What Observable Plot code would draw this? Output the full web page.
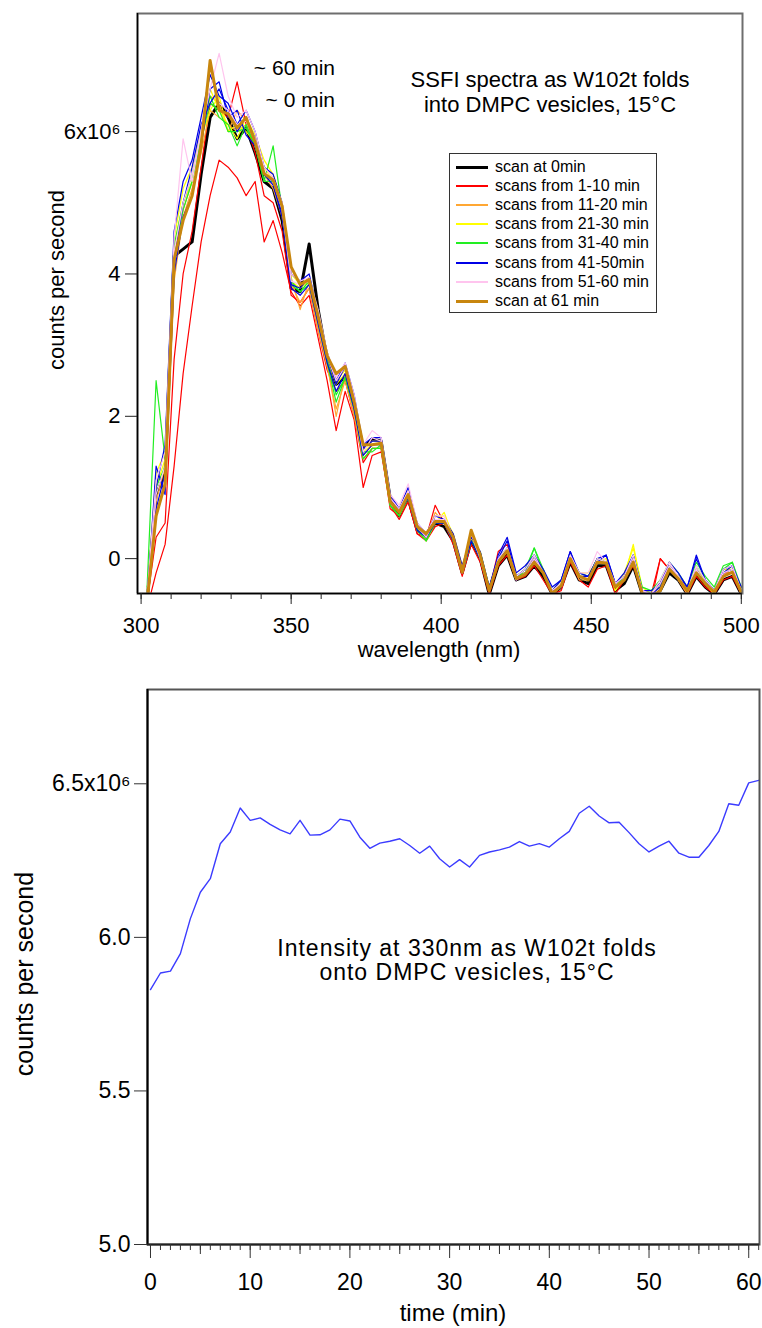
<!DOCTYPE html>
<html>
<head>
<meta charset="utf-8">
<script src="https://cdn.jsdelivr.net/npm/d3@7"></script>
<script src="https://cdn.jsdelivr.net/npm/@observablehq/plot@0.6"></script>
<style>
  body { margin: 0; background: #fff; font-family: "Liberation Sans", Arial, sans-serif; }
  #wrap { position: relative; width: 762px; height: 1328px; overflow: hidden; background: #fff; }
  .panel { position: absolute; left: 0; width: 762px; overflow: hidden; background: #fff; }
  .note { position: absolute; color: #000; white-space: nowrap; line-height: 1; font-family: "Liberation Sans", Arial, sans-serif; }
  .center { transform: translateX(-50%); text-align: center; }
  .ylab { transform: translate(-50%, -50%) rotate(-90deg); }
  #legend { position: absolute; left: 449px; top: 153px; width: 206px; height: 158px; border: 1px solid #333; background: #fff; }
  .lrow { position: absolute; left: 0; width: 206px; height: 19px; }
  .lsw { position: absolute; left: 6px; width: 32px; }
  .ltx { position: absolute; left: 45px; top: 0; font-size: 16px; line-height: 19px; white-space: nowrap; }
</style>
</head>
<body>
<div id="wrap">
  <div id="topPanel" class="panel" style="top:0;height:663px;">
    <div id="topChart"></div>
    <div class="note center" style="left:550px;top:69px;font-size:22px;">SSFI spectra as W102t folds</div>
    <div class="note center" style="left:550px;top:94px;font-size:22px;">into DMPC vesicles, 15°C</div>
    <div class="note" style="right:427px;top:57px;font-size:21px;">~ 60 min</div>
    <div class="note" style="right:427px;top:89px;font-size:21px;">~ 0 min</div>
    <div class="note ylab" style="left:57px;top:280px;font-size:22px;">counts per second</div>
    <div class="note center" style="left:439px;top:639px;font-size:22px;">wavelength (nm)</div>
    <div id="legend"></div>
  </div>
  <div id="bottomPanel" class="panel" style="top:663px;height:665px;">
    <div id="bottomChart"></div>
    <div class="note center" style="left:467px;top:274px;font-size:23px;letter-spacing:1px;">Intensity at 330nm as W102t folds</div>
    <div class="note center" style="left:467px;top:298px;font-size:23px;letter-spacing:1px;">onto DMPC vesicles, 15°C</div>
    <div class="note ylab" style="left:24px;top:311px;font-size:25px;">counts per second</div>
    <div class="note center" style="left:453px;top:638px;font-size:24px;">time (min)</div>
  </div>
</div>
<script>
// ---------------- DATA: spectra (counts per second, x10^6) ----------------
const wavelengths = [302,305,308,311,314,317,320,323,326,329,
  332,335,338,341,344,347,350,353,356,359,
  362,365,368,371,374,377,380,383,386,389,
  392,395,398,401,404,407,410,413,416,419,
  422,425,428,431,434,437,440,443,446,449,
  452,455,458,461,464,467,470,473,476,479,
  482,485,488,491,494,497,500];

const scan0min = [-0.6,0.9,1.2,4.25,4.35,4.45,5.4,6.2,6.4,6.2,
  5.9,6.05,5.7,5.3,5.2,4.75,3.8,3.75,4.42,3.5,
  2.8,2.45,2.55,2.15,1.55,1.68,1.65,0.85,0.6,0.85,
  0.4,0.3,0.5,0.45,0.25,-0.2,0.25,0.0,-0.5,-0.1,
  0.05,-0.3,-0.25,-0.1,-0.25,-0.5,-0.4,-0.05,-0.3,-0.35,
  -0.1,-0.1,-0.45,-0.35,-0.1,-0.5,-0.55,-0.45,-0.2,-0.3,
  -0.5,-0.25,-0.4,-0.5,-0.3,-0.25,-0.5];
const scanRedA = [-0.7,-0.2,0.2,1.3,2.6,3.55,4.45,5.1,5.6,5.5,
  5.35,5.1,5.3,4.45,4.75,4.3,3.75,3.55,3.7,3.1,
  2.5,1.8,2.35,1.95,1.0,1.45,1.5,0.75,0.55,0.8,
  0.35,0.25,0.45,0.5,0.2,-0.25,0.2,-0.05,-0.5,-0.1,
  0.05,-0.3,-0.25,-0.1,-0.3,-0.5,-0.45,-0.05,-0.3,-0.4,
  -0.15,-0.1,-0.5,-0.3,-0.1,-0.5,-0.6,0.0,-0.15,-0.3,
  -0.5,-0.25,-0.4,-0.5,-0.3,-0.25,-0.5];
const scanRedB = [-0.6,0.3,0.5,2.8,4.0,4.6,5.5,6.4,6.3,6.2,
  6.7,6.1,5.7,5.1,5.0,4.6,3.7,3.6,3.8,3.2,
  2.65,2.35,2.5,2.0,1.35,1.55,1.55,0.7,0.6,0.8,
  0.35,0.3,0.75,0.5,0.25,-0.2,0.3,0.05,-0.45,0.1,
  0.2,-0.25,-0.2,0.0,-0.2,-0.45,-0.35,0.0,-0.25,-0.3,
  -0.05,-0.05,-0.4,-0.3,0.0,-0.45,-0.5,0.0,-0.15,-0.25,
  -0.45,-0.2,-0.35,-0.45,-0.2,-0.2,-0.45];
const scanOrangeA = [-0.5,0.8,1.3,4.3,4.9,5.3,5.9,6.5,6.4,6.0,
  6.3,6.15,5.9,5.5,5.35,4.9,3.95,3.5,3.9,3.3,
  2.75,2.0,2.6,2.1,1.45,1.6,1.6,0.8,0.7,0.9,
  0.45,0.35,0.55,0.5,0.3,-0.15,0.3,0.05,-0.45,-0.05,
  0.1,-0.25,-0.2,0.0,-0.2,-0.45,-0.35,0.0,-0.25,-0.25,
  0.0,-0.05,-0.4,-0.3,0.0,-0.45,-0.5,-0.4,-0.1,-0.25,
  -0.45,-0.15,-0.35,-0.45,-0.2,-0.15,-0.45];
const scanOrangeB = [-0.6,0.6,1.1,3.9,4.8,5.2,5.7,6.3,6.2,6.1,
  6.0,6.1,5.8,5.4,5.2,4.8,3.85,3.6,3.8,3.2,
  2.7,2.1,2.5,2.0,1.4,1.55,1.55,0.75,0.6,0.85,
  0.4,0.3,0.65,0.5,0.25,-0.2,0.25,0.0,-0.45,0.0,
  0.1,-0.3,-0.2,0.0,-0.2,-0.5,-0.4,0.0,-0.3,-0.3,
  -0.05,-0.05,-0.45,-0.3,0.0,-0.5,-0.5,-0.4,-0.15,-0.3,
  -0.5,-0.2,-0.35,-0.5,-0.2,-0.2,-0.5];
const scanYellowA = [-0.5,1.2,1.5,4.5,5.2,5.5,6.0,6.6,6.3,6.1,
  5.9,6.2,5.95,5.6,5.4,5.0,4.0,3.85,3.95,3.4,
  2.9,2.5,2.65,2.25,1.55,1.65,1.65,0.85,0.7,0.95,
  0.5,0.3,0.6,0.6,0.35,-0.1,0.3,0.05,-0.4,-0.05,
  0.1,-0.25,-0.15,0.05,-0.2,-0.45,-0.35,0.05,-0.2,-0.2,
  -0.05,0.0,-0.4,-0.2,0.15,-0.4,-0.5,-0.35,-0.1,-0.25,
  -0.45,-0.15,-0.3,-0.45,-0.15,-0.15,-0.4];
const scanYellowB = [-0.5,1.0,1.4,4.4,5.0,5.3,5.9,6.3,6.5,6.0,
  6.1,6.0,5.85,5.5,5.3,4.95,3.9,3.8,3.9,3.4,
  2.8,2.45,2.6,2.2,1.5,1.6,1.6,0.8,0.65,0.9,
  0.45,0.25,0.5,0.65,0.3,-0.15,0.3,0.0,-0.45,-0.05,
  0.1,-0.25,-0.2,0.0,-0.15,-0.5,-0.35,0.0,-0.25,-0.25,
  0.0,-0.05,-0.45,-0.25,0.2,-0.45,-0.5,-0.35,-0.1,-0.3,
  -0.45,-0.15,-0.35,-0.5,-0.2,-0.1,-0.45];
const scanGreenA = [-0.4,2.5,1.4,4.4,5.0,5.4,6.0,6.5,6.2,6.1,
  5.8,6.1,5.8,5.3,5.8,4.9,3.9,3.75,3.9,3.35,
  2.8,2.3,2.55,2.1,1.5,1.5,1.6,0.75,0.6,0.9,
  0.4,0.25,0.55,0.55,0.3,-0.15,0.25,0.1,-0.4,0.0,
  0.15,-0.25,-0.15,0.15,-0.15,-0.45,-0.3,0.05,-0.2,-0.25,
  0.0,-0.05,-0.4,-0.25,0.05,-0.4,-0.45,-0.3,-0.05,-0.2,
  -0.4,-0.05,-0.25,-0.4,-0.1,-0.05,-0.4];
const scanGreenB = [-0.5,1.0,1.3,4.2,4.9,5.3,5.9,6.4,6.3,6.0,
  6.0,6.05,5.8,5.3,5.3,4.85,3.85,3.75,3.85,3.3,
  2.75,2.2,2.55,2.1,1.4,1.55,1.55,0.75,0.6,0.85,
  0.4,0.25,0.5,0.5,0.25,-0.2,0.25,0.0,-0.45,-0.05,
  0.1,-0.25,-0.2,0.15,-0.2,-0.45,-0.35,0.0,-0.25,-0.3,
  -0.05,-0.05,-0.4,-0.3,0.0,-0.45,-0.45,-0.4,-0.1,-0.25,
  -0.45,-0.1,-0.3,-0.45,-0.15,-0.05,-0.45];
const scanBlueA = [-0.5,1.0,1.6,4.6,5.3,5.6,6.2,6.8,6.5,6.4,
  6.1,6.3,6.0,5.5,5.4,5.0,4.0,3.9,4.0,3.45,
  2.9,2.5,2.75,2.3,1.6,1.7,1.7,0.9,0.7,1.0,
  0.5,0.35,0.6,0.55,0.35,-0.1,0.3,0.1,-0.4,0.05,
  0.3,-0.2,-0.1,0.05,-0.15,-0.4,-0.3,0.1,-0.2,-0.25,
  0.0,0.05,-0.35,-0.2,0.05,-0.45,-0.5,-0.35,-0.05,-0.2,
  -0.4,0.05,-0.3,-0.45,-0.15,-0.1,-0.4];
const scanBlueB = [-0.6,0.7,1.2,4.0,4.8,5.1,5.8,6.6,6.7,6.2,
  6.3,5.95,5.8,5.4,5.25,4.8,3.8,3.7,3.85,3.3,
  2.75,2.35,2.6,2.1,1.45,1.6,1.6,0.8,0.65,0.85,
  0.4,0.3,0.5,0.5,0.25,-0.2,0.25,0.0,-0.45,-0.05,
  0.15,-0.3,-0.2,0.0,-0.2,-0.45,-0.4,0.0,-0.25,-0.3,
  -0.05,-0.05,-0.4,-0.3,0.0,-0.45,-0.5,-0.4,-0.15,-0.3,
  -0.45,-0.15,-0.35,-0.45,-0.2,-0.15,-0.45];
const scanBlueC = [-0.6,1.3,0.9,4.2,5.0,5.5,6.1,6.4,6.6,6.3,
  6.0,6.2,5.9,5.4,5.3,4.85,3.85,3.8,3.95,3.4,
  2.85,2.45,2.7,2.2,1.55,1.65,1.65,0.85,0.7,0.9,
  0.45,0.3,0.55,0.55,0.3,-0.15,0.35,0.05,-0.4,0.0,
  0.25,-0.25,-0.15,0.05,-0.2,-0.45,-0.3,0.1,-0.25,-0.25,
  -0.05,0.05,-0.35,-0.25,0.05,-0.45,-0.45,-0.35,-0.1,-0.25,
  -0.4,0.0,-0.3,-0.45,-0.2,-0.1,-0.45];
const scanPinkA = [-0.5,1.1,1.5,4.5,5.9,5.3,6.0,6.6,7.1,6.5,
  6.2,6.3,6.0,5.5,5.35,5.0,4.0,3.9,3.95,3.5,
  2.9,2.55,2.75,2.3,1.6,1.8,1.7,0.9,0.75,1.05,
  0.5,0.35,0.6,0.6,0.3,-0.15,0.4,0.05,-0.45,0.0,
  0.15,-0.25,-0.15,0.05,-0.2,-0.45,-0.35,0.05,-0.2,-0.2,
  0.1,-0.05,-0.35,-0.25,0.05,-0.45,-0.5,-0.3,-0.05,-0.25,
  -0.45,-0.1,-0.3,-0.45,-0.15,-0.1,-0.45];
const scanPinkB = [-0.6,0.9,1.3,4.3,5.0,5.4,6.0,6.9,6.4,6.3,
  6.1,6.15,5.9,5.45,5.3,4.9,3.9,3.85,3.9,3.4,
  2.85,2.5,2.7,2.2,1.5,1.7,1.65,0.85,0.7,0.95,
  0.45,0.3,0.55,0.55,0.3,-0.2,0.35,0.0,-0.45,-0.05,
  0.1,-0.3,-0.2,0.0,-0.2,-0.45,-0.35,0.0,-0.25,-0.3,
  0.0,-0.05,-0.4,-0.3,0.0,-0.45,-0.5,-0.35,-0.1,-0.25,
  -0.45,-0.15,-0.35,-0.45,-0.2,-0.15,-0.45];
const scan61min = [-0.6,0.6,1.05,4.2,4.75,5.1,5.8,7.0,6.3,6.25,
  6.05,6.2,5.85,5.41,5.32,4.95,4.1,3.85,3.92,3.4,
  2.85,2.6,2.7,2.2,1.6,1.6,1.62,0.8,0.65,0.9,
  0.45,0.35,0.52,0.52,0.3,-0.19,0.4,0.05,-0.45,-0.05,
  0.11,-0.28,-0.22,-0.05,-0.2,-0.49,-0.38,0.0,-0.25,-0.3,
  -0.05,-0.06,-0.4,-0.3,-0.05,-0.49,-0.55,-0.45,-0.15,-0.28,
  -0.45,-0.2,-0.35,-0.47,-0.25,-0.19,-0.47];

const legendLabels = ["scan at 0min","scans from 1-10 min","scans from 11-20 min","scans from 21-30 min",
  "scans from 31-40 min","scans from 41-50min","scans from 51-60 min","scan at 61 min"];
const groupColors = ["#000000","#ff0000","#ffa733","#ffff00","#22ee22","#0000e6","#ffc4ee","#c8860e"];
const groupWidths = [3, 1.2, 1.2, 1.2, 1.2, 1.2, 1.2, 3];
const legendSwatchHeights = [3, 2, 2, 2, 2, 2, 2, 3];

// series in drawing order: [values, legend group index]
const spectra = [
  [scan0min, 0], [scanRedA, 1], [scanRedB, 1], [scanOrangeA, 2], [scanOrangeB, 2],
  [scanYellowA, 3], [scanYellowB, 3], [scanGreenA, 4], [scanGreenB, 4],
  [scanBlueA, 5], [scanBlueB, 5], [scanBlueC, 5], [scanPinkA, 6], [scanPinkB, 6], [scan61min, 7]
];

const wavelengthMajorTicks = [300, 350, 400, 450, 500];
const wavelengthMinorTicks = [300,310,320,330,340,350,360,370,380,390,400,410,420,430,440,450,460,470,480,490,500];
const countsTicks = [0, 2, 4, 6];

// ---------------- DATA: intensity at 330 nm vs time ----------------
const minutes = [0,1,2,3,4,5,6,7,8,9,10,11,12,13,14,15,16,17,18,19,20,21,22,23,24,25,26,27,28,29,30,
  31,32,33,34,35,36,37,38,39,40,41,42,43,44,45,46,47,48,49,50,51,52,53,54,55,56,57,58,59,60,61];
const intensity330 = [5.830,5.884,5.890,5.947,6.061,6.147,6.191,6.305,6.343,6.421,
  6.381,6.389,6.368,6.350,6.337,6.381,6.333,6.334,6.350,6.385,
  6.379,6.326,6.290,6.307,6.313,6.321,6.299,6.274,6.297,6.256,
  6.229,6.253,6.229,6.267,6.278,6.285,6.294,6.312,6.297,6.305,
  6.294,6.321,6.345,6.404,6.427,6.395,6.373,6.375,6.341,6.305,
  6.278,6.297,6.313,6.274,6.261,6.261,6.299,6.345,6.435,6.430,
  6.503,6.511];
const minuteMajorTicks = [0, 10, 20, 30, 40, 50, 60];
const minuteMidTicks = [5, 15, 25, 35, 45, 55];
const minuteMinorTicks = minutes;
const intensityTicks = [5.0, 5.5, 6.0, 6.5];

// ---------------- TOP CHART ----------------
const font = "Liberation Sans, Arial, sans-serif";
const xTop = [298.8, 500.4], yTop = [-0.49, 7.66];
const topPlot = Plot.plot({
  width: 762, height: 663,
  marginTop: 13, marginLeft: 137, marginRight: 20, marginBottom: 70,
  style: {fontFamily: font, background: "#fff", color: "#000"},
  x: {domain: xTop},
  y: {domain: yTop},
  marks: [
    ...spectra.map(([vals, g]) => Plot.line(
      wavelengths.map((w, i) => ({w, v: vals[i]})),
      {x: "w", y: "v", stroke: groupColors[g], strokeWidth: groupWidths[g], clip: true}
    )),
    Plot.frame({stroke: "#6e6e6e", strokeWidth: 2}),
    Plot.ruleX([xTop[0]], {stroke: "#000", strokeWidth: 1.5}),
    Plot.ruleY([yTop[0]], {stroke: "#000", strokeWidth: 1.5}),
    Plot.axisX({ticks: wavelengthMinorTicks, tickSize: 6, tickFormat: () => "", label: null, stroke: "#222"}),
    Plot.axisX({ticks: wavelengthMajorTicks, tickSize: 11, tickPadding: 13, fontSize: 22, tickFormat: d => String(d), label: null, stroke: "#222"}),
    Plot.axisY({ticks: countsTicks, tickSize: 12, tickPadding: 5, fontSize: 22,
      tickFormat: d => d === 6 ? "6x10\u2076" : String(d), label: null, stroke: "#222"})
  ]
});
document.getElementById("topChart").appendChild(topPlot);

// legend
const legend = document.getElementById("legend");
legendLabels.forEach((lab, i) => {
  const row = document.createElement("div");
  row.className = "lrow";
  row.style.top = Math.round(3 + i * 19.1) + "px";
  const sw = document.createElement("div");
  sw.className = "lsw";
  const h = legendSwatchHeights[i];
  sw.style.height = h + "px";
  sw.style.top = Math.round(10 - h / 2) + "px";
  sw.style.background = groupColors[i];
  const tx = document.createElement("div");
  tx.className = "ltx";
  tx.textContent = lab;
  row.appendChild(sw); row.appendChild(tx);
  legend.appendChild(row);
});

// ---------------- BOTTOM CHART ----------------
const xBot = [-0.3, 61.08], yBot = [5.0, 6.807];
const bottomPlot = Plot.plot({
  width: 762, height: 665,
  marginTop: 26, marginLeft: 147, marginRight: 3, marginBottom: 84,
  style: {fontFamily: font, background: "#fff", color: "#000"},
  x: {domain: xBot},
  y: {domain: yBot},
  marks: [
    Plot.line(minutes.map((t, i) => ({t, v: intensity330[i]})), {x: "t", y: "v", stroke: "#3b3bff", strokeWidth: 1.4, clip: true}),
    Plot.frame({stroke: "#555", strokeWidth: 2}),
    Plot.ruleX([xBot[0]], {stroke: "#000", strokeWidth: 2}),
    Plot.ruleY([yBot[0]], {stroke: "#222", strokeWidth: 2}),
    Plot.axisX({ticks: minuteMinorTicks, tickSize: 6, tickFormat: () => "", label: null, stroke: "#333"}),
    Plot.axisX({ticks: minuteMidTicks, tickSize: 10, tickFormat: () => "", label: null, stroke: "#333"}),
    Plot.axisX({ticks: minuteMajorTicks, tickSize: 14, tickPadding: 15, fontSize: 23, tickFormat: d => String(d), label: null, stroke: "#333"}),
    Plot.axisY({ticks: intensityTicks, tickSize: 13, tickPadding: 4, fontSize: 23,
      tickFormat: d => d === 6.5 ? "6.5x10\u2076" : d.toFixed(1), label: null, stroke: "#333"})
  ]
});
document.getElementById("bottomChart").appendChild(bottomPlot);
</script>
</body>
</html>
